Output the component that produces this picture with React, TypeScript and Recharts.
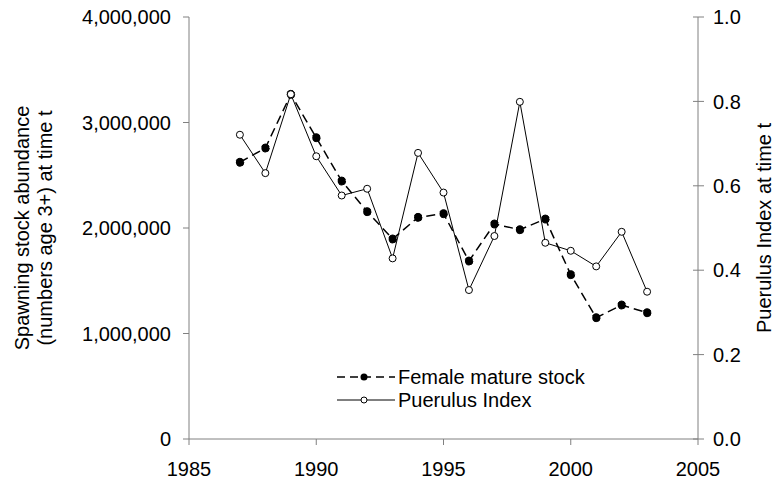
import { LineChart, Line, XAxis, YAxis, Legend, Label } from 'recharts'

const years = [1987, 1988, 1989, 1990, 1991, 1992, 1993, 1994, 1995, 1996, 1997, 1998, 1999, 2000, 2001, 2002, 2003]
const femaleStock = [
  2623000, 2758000, 3267000, 2856000, 2445000, 2155000, 1896000, 2101000, 2136000,
  1687000, 2038000, 1984000, 2085000, 1558000, 1150000, 1270000, 1197000,
]
const puerulusIndex = [
  0.721, 0.63, 0.817, 0.67, 0.577, 0.593, 0.428, 0.678, 0.584, 0.353, 0.481, 0.799, 0.465, 0.446, 0.409, 0.491, 0.349,
]
const yearTicks = [1985, 1990, 1995, 2000, 2005]
const stockTicks = [0, 1000000, 2000000, 3000000, 4000000]
const indexTicks = [0, 0.2, 0.4, 0.6, 0.8, 1.0]

const data = years.map((year, i) => ({ year, female: femaleStock[i], puerulus: puerulusIndex[i] }))

const font = '"Liberation Sans", Arial, sans-serif'
const tickStyle = { fontSize: 20, fill: '#000', fontFamily: font }
const axisGrey = '#808080'

function LeftTitle(props: any) {
  const vb = props.viewBox || { x: 0, y: 17, width: 189, height: 422 }
  const cy = vb.y + vb.height / 2
  return (
    <g fontFamily={font} fontSize={20} fill="#000">
      <text x={29} y={cy} transform={`rotate(-90, 29, ${cy})`} textAnchor="middle">
        Spawning stock abundance
      </text>
      <text x={52} y={cy} transform={`rotate(-90, 52, ${cy})`} textAnchor="middle">
        (numbers age 3+) at time t
      </text>
    </g>
  )
}

function RightTitle(props: any) {
  const vb = props.viewBox || { x: 698, y: 17, width: 79, height: 422 }
  const cy = vb.y + vb.height / 2
  const x = 771
  return (
    <text x={x} y={cy} transform={`rotate(-90, ${x}, ${cy})`} textAnchor="middle" fontFamily={font} fontSize={20} fill="#000">
      Puerulus Index at time t
    </text>
  )
}

// right axis in the original has ticks that cross the axis line
function RightTick(props: any) {
  const { x, y, payload } = props
  const axisX = x - 15
  return (
    <g>
      <line x1={axisX - 5} y1={y} x2={axisX + 6} y2={y} stroke={axisGrey} />
      <text x={x} y={y} dy="0.355em" textAnchor="start" fontFamily={font} fontSize={20} fill="#000">
        {Number(payload.value).toFixed(1)}
      </text>
    </g>
  )
}

function ChartLegend() {
  return (
    <svg width={270} height={48} style={{ display: 'block', overflow: 'visible' }}>
      <line x1={0} y1={12} x2={58} y2={12} stroke="#000" strokeWidth={1.5} strokeDasharray="8 5" />
      <circle cx={27} cy={12} r={3.5} fill="#000" />
      <text x={61} y={19} fontFamily={font} fontSize={20} fill="#000">Female mature stock</text>
      <line x1={0} y1={35} x2={58} y2={35} stroke="#000" strokeWidth={1} />
      <circle cx={27} cy={35} r={3} fill="#fff" stroke="#000" strokeWidth={1} />
      <text x={61} y={42} fontFamily={font} fontSize={20} fill="#000">Puerulus Index</text>
    </svg>
  )
}

export default function App() {
  return (
    <div style={{ position: 'fixed', left: 0, top: 0, width: 777, height: 487, background: '#fff' }}>
      <LineChart width={777} height={487} data={data} margin={{ top: 17, right: 0, left: 0, bottom: 18 }}>
        <XAxis
          dataKey="year"
          type="number"
          domain={[1985, 2005]}
          ticks={yearTicks}
          height={30}
          tick={tickStyle}
          tickSize={6}
          tickMargin={17}
          stroke={axisGrey}
          interval={0}
        />
        <YAxis
          yAxisId="left"
          domain={[0, 4000000]}
          ticks={stockTicks}
          width={189}
          tick={tickStyle}
          tickSize={6}
          tickMargin={12}
          stroke={axisGrey}
          tickFormatter={(v: number) => v.toLocaleString('en-US')}
          interval={0}
        >
          <Label content={<LeftTitle />} />
        </YAxis>
        <YAxis
          yAxisId="right"
          orientation="right"
          domain={[0, 1]}
          ticks={indexTicks}
          width={79}
          tick={<RightTick />}
          tickLine={false}
          tickSize={6}
          tickMargin={9}
          stroke={axisGrey}
          interval={0}
        >
          <Label content={<RightTitle />} />
        </YAxis>
        <Legend
          layout="horizontal"
          verticalAlign="middle"
          align="center"
          content={<ChartLegend />}
          wrapperStyle={{ position: 'absolute', left: 337, top: 365, width: 270 }}
        />
        <Line
          yAxisId="left"
          dataKey="female"
          name="Female mature stock"
          stroke="#000"
          strokeWidth={1.5}
          strokeDasharray="9 5"
          dot={{ r: 4, fill: '#000', stroke: '#000', strokeWidth: 1 }}
          activeDot={false}
          isAnimationActive={false}
        />
        <Line
          yAxisId="right"
          dataKey="puerulus"
          name="Puerulus Index"
          stroke="#000"
          strokeWidth={1}
          dot={{ r: 3.5, fill: '#fff', stroke: '#000', strokeWidth: 1 }}
          activeDot={false}
          isAnimationActive={false}
        />
      </LineChart>
    </div>
  )
}
